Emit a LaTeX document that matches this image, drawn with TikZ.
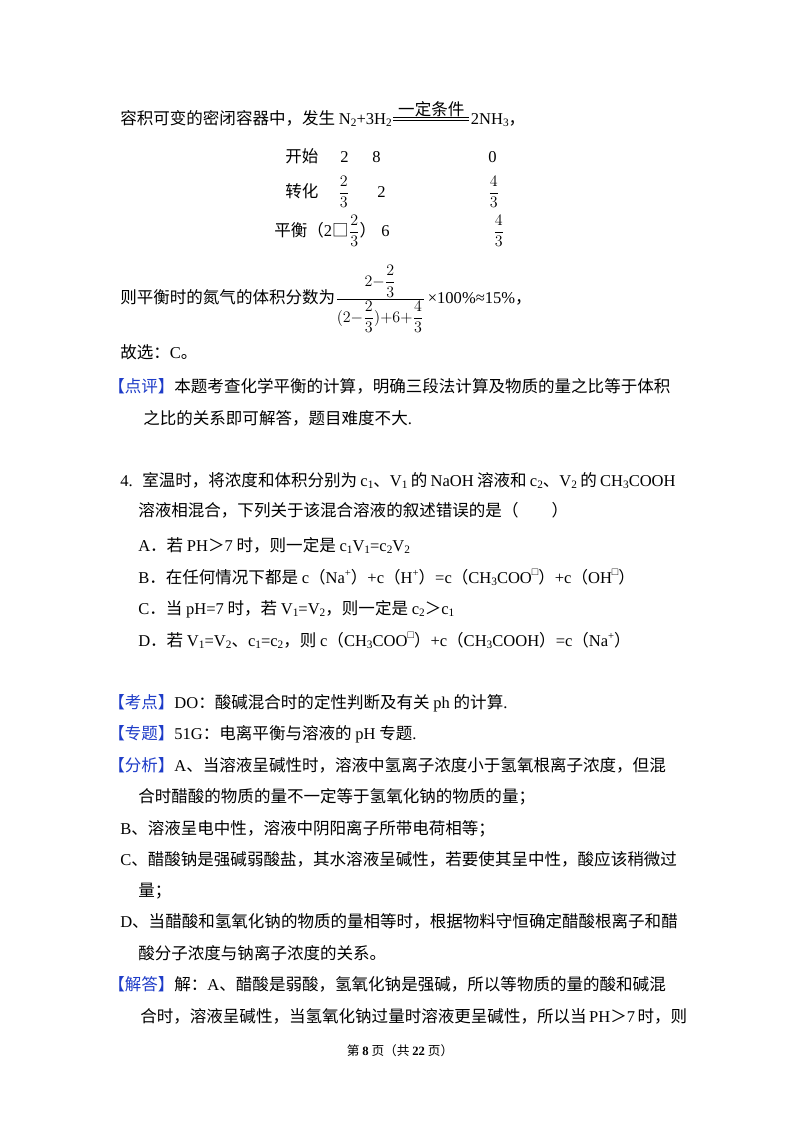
\documentclass[tikz,border=0pt]{standalone}
\usepackage{fontspec}
\usetikzlibrary{calc}
\setmainfont{Noto Sans CJK SC}
\newfontfamily\lt{Liberation Serif}
\XeTeXlinebreaklocale "zh"
\XeTeXlinebreakskip=0pt plus 3pt minus 0.3pt
\definecolor{kb}{RGB}{30,60,200}
\newcommand\sbs[1]{\raisebox{-0.35ex}{\fontsize{8.5}{9}\selectfont\lt #1}}
\newcommand\sps[1]{\raisebox{0.8ex}{\fontsize{8}{8}\selectfont\lt #1}}
\newcommand\tag[1]{{\color{kb}【#1】}}
\newcommand\bx{□}
\newcommand\fullline[2]{\hbox to #1{#2}}
\begin{document}
\begin{tikzpicture}[x=0.75pt,y=-0.75pt,
  t/.style={anchor=base west,inner sep=0pt,font=\fontsize{12.4}{15}\selectfont}]
\useasboundingbox (0,0) rectangle (800,1132);
\fill[white] (0,0) rectangle (800,1132);
% line 1
\node[t] (l1) at (120,124) {容积可变的密闭容器中，发生 {\lt N\sbs{2}+3H\sbs{2}}};
\coordinate (ra) at ([xshift=1pt,yshift=4pt]l1.base east);
\coordinate (rb) at ([xshift=57pt]ra);
\draw[line width=0.6pt] ([yshift=-1pt]ra) -- ([yshift=-1pt]rb) ([yshift=1pt]ra) -- ([yshift=1pt]rb);
\node[t,anchor=base] (cond) at ($(ra)!0.5!(rb)+(0,-3)$) {一定条件};
\node[t] (l1b) at ([xshift=1pt,yshift=-4pt]rb) {\lt 2NH\sbs{3}\normalfont ，};
% table
\node[t] (k1) at (285,162) {开始};
\node[t] (k1a) at (340,162) {\lt 2};
\node[t] (k1b) at (372,162) {\lt 8};
\node[t] (k1c) at (488,162) {\lt 0};
\node[t] (k2) at (285,197) {转化};
\node[t] (k2a) at (338,197) {$\displaystyle\frac{2}{3}$};
\node[t] (k2b) at (377,197) {\lt 2};
\node[t] (k2c) at (488,197) {$\displaystyle\frac{4}{3}$};
\node[t] (k3) at (274,236) {平衡（{\lt 2}\bx$\displaystyle\frac{2}{3}$）};
\node[t] (k3b) at (381,236) {\lt 6};
\node[t] (k3c) at (493,236) {$\displaystyle\frac{4}{3}$};
% fraction line
\node[t] (fr) at (120,303) {则平衡时的氮气的体积分数为$\displaystyle\frac{2{-}\displaystyle\frac{2}{3}}{(2{-}\displaystyle\frac{2}{3}){+}6{+}\displaystyle\frac{4}{3}}$\,{\lt ×100\%≈15\%}，};
\node[t] (gx) at (120,358) {故选：{\lt C}。};
\node[t] (dp) at (108,392) {\fullline{425pt}{\tag{点评}本题考查化学平衡的计算，明确三段法计算及物质的量之比等于体积}};
\node[t] (dp2) at (143,424) {之比的关系即可解答，题目难度不大{\lt .}};
% question 4
\node[t] (q4) at (120,486) {\lt 4.};
\node[t] (q4a) at (142,486) {\fullline{400pt}{室温时，将浓度和体积分别为 {\lt c\sbs{1}}、{\lt V\sbs{1}} 的 {\lt NaOH} 溶液和 {\lt c\sbs{2}}、{\lt V\sbs{2}} 的 {\lt CH\sbs{3}COOH}}};
\node[t] (q4b) at (138,516) {溶液相混合，下列关于该混合溶液的叙述错误的是（\quad\quad）};
\node[t] (oa) at (138,551) {{\lt A}．若 {\lt PH}＞{\lt 7} 时，则一定是 {\lt c\sbs{1}V\sbs{1}=c\sbs{2}V\sbs{2}}};
\node[t] (ob) at (138,583) {{\lt B}．在任何情况下都是 {\lt c}（{\lt Na\sps{+}}）{\lt +c}（{\lt H\sps{+}}）{\lt =c}（{\lt CH\sbs{3}COO}\sps{\bx}）{\lt +c}（{\lt OH}\sps{\bx}）};
\node[t] (oc) at (138,614) {{\lt C}．当 {\lt pH=7} 时，若 {\lt V\sbs{1}=V\sbs{2}}，则一定是 {\lt c\sbs{2}}＞{\lt c\sbs{1}}};
\node[t] (od) at (138,646) {{\lt D}．若 {\lt V\sbs{1}=V\sbs{2}}、{\lt c\sbs{1}=c\sbs{2}}，则 {\lt c}（{\lt CH\sbs{3}COO}\sps{\bx}）{\lt +c}（{\lt CH\sbs{3}COOH}）{\lt =c}（{\lt Na\sps{+}}）};
% analysis
\node[t] (kd) at (108,708) {\tag{考点}{\lt DO}：酸碱混合时的定性判断及有关 {\lt ph} 的计算{\lt .}};
\node[t] (zt) at (108,739) {\tag{专题}{\lt 51G}：电离平衡与溶液的 {\lt pH} 专题{\lt .}};
\node[t] (fx) at (108,771) {\fullline{425pt}{\tag{分析}{\lt A}、当溶液呈碱性时，溶液中氢离子浓度小于氢氧根离子浓度，但混}};
\node[t] (fx2) at (138,802) {合时醋酸的物质的量不一定等于氢氧化钠的物质的量；};
\node[t] (fb) at (120,834) {{\lt B}、溶液呈电中性，溶液中阴阳离子所带电荷相等；};
\node[t] (fc) at (120,865) {\fullline{416pt}{{\lt C}、醋酸钠是强碱弱酸盐，其水溶液呈碱性，若要使其呈中性，酸应该稍微过}};
\node[t] (fc2) at (138,896) {量；};
\node[t] (fd) at (120,927) {\fullline{416pt}{{\lt D}、当醋酸和氢氧化钠的物质的量相等时，根据物料守恒确定醋酸根离子和醋}};
\node[t] (fd2) at (138,959) {酸分子浓度与钠离子浓度的关系。};
\node[t] (jd) at (108,990) {\fullline{425pt}{\tag{解答}解：{\lt A}、醋酸是弱酸，氢氧化钠是强碱，所以等物质的量的酸和碱混}};
\node[t] (jd2) at (140,1022) {\fullline{402pt}{合时，溶液呈碱性，当氢氧化钠过量时溶液更呈碱性，所以当 {\lt PH}＞{\lt 7} 时，则}};
\node[anchor=base,inner sep=0pt,font=\fontsize{9.5}{11}\selectfont] (ft) at (400,1055) {第 {\lt\bfseries 8} 页（共 {\lt\bfseries 22} 页）};
\end{tikzpicture}
\end{document}
